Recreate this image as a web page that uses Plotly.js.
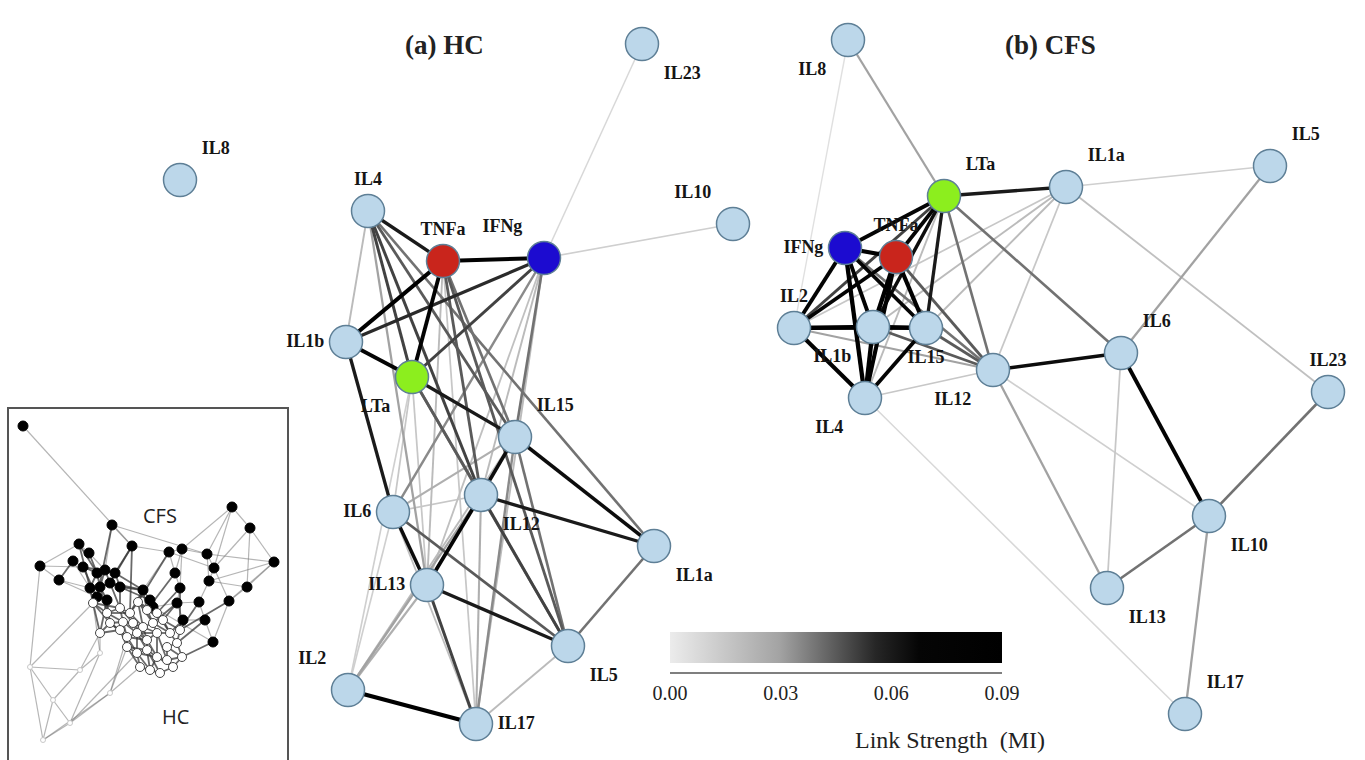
<!DOCTYPE html>
<html><head><meta charset="utf-8">
<script src="https://cdn.plot.ly/plotly-3.0.1.min.js"></script>
<style>html,body{margin:0;padding:0;background:#fff}#chart{width:1365px;height:760px}</style>
</head><body><div id="chart"></div>
<script>
// ---------- DATA ----------
// (a) HC network: node layout coordinates
const hcNames = ['IL23','IL8','IL4','TNFa','IFNg','IL10','IL1b','LTa','IL15','IL6','IL12','IL1a','IL13','IL5','IL2','IL17'];
const hcX = [642,180,368,443,544,733,346,412,515,393,481,654,427,568,348,476];
const hcY = [44,180,211,261,258,224,342,377,437,512,495,546,585,646,690,724];
// HC links: from, to, mutual information
const hcFrom = ['IFNg','IFNg','TNFa','IL4','IL4','IL4','IL4','IL4','IL4','IL4','IL1b','IL1b','IL1b','IL1b','IL6','TNFa','TNFa','TNFa','TNFa','TNFa','TNFa','IFNg','IFNg','IFNg','IFNg','IFNg','IFNg','LTa','LTa','LTa','LTa','LTa','LTa','IL15','IL15','IL15','IL15','IL15','IL15','IL12','IL12','IL12','IL12','IL12','IL12','IL6','IL6','IL6','IL13','IL13','IL13','IL2','IL1a','IL5','IL15'];
const hcTo   = ['IL23','IL10','IFNg','TNFa','IL1b','LTa','IL15','IL12','IL1a','IL13','TNFa','IFNg','LTa','IL6','IL13','LTa','IL12','IL15','IL5','IL13','IL17','LTa','IL6','IL12','IL15','IL13','IL17','IL15','IL12','IL13','IL2','IL5','IL6','IL1a','IL12','IL6','IL13','IL5','IL17','IL1a','IL6','IL13','IL5','IL2','IL17','IL5','IL2','IL17','IL5','IL17','IL2','IL17','IL5','IL17','IL2'];
const hcMI   = [0.008,0.012,0.080,0.060,0.020,0.050,0.045,0.050,0.040,0.030,0.085,0.055,0.070,0.060,0.065,0.075,0.045,0.040,0.045,0.020,0.015,0.050,0.035,0.020,0.040,0.018,0.020,0.060,0.045,0.015,0.012,0.040,0.015,0.065,0.065,0.025,0.040,0.040,0.035,0.060,0.015,0.070,0.050,0.030,0.025,0.045,0.012,0.018,0.060,0.050,0.025,0.088,0.040,0.020,0.020];

// (b) CFS network
const cfsNames = ['IL8','LTa','IL1a','IL5','IFNg','TNFa','IL2','IL1b','IL15','IL12','IL6','IL23','IL4','IL10','IL13','IL17'];
const cfsX = [848,944,1066,1270,845,896,794,873,926,993,1121,1328,865,1209,1107,1185];
const cfsY = [40,196,187,166,248,257,328,327,328,370,353,392,398,516,588,714];
const cfsFrom = ['IL8','IL8','LTa','LTa','LTa','LTa','LTa','LTa','LTa','LTa','LTa','IL1a','IL1a','IL1a','IL1a','IL1a','IL1a','IL5','IL6','IL6','IL10','IL10','IL10','IL12','IL12','IL12','IL4','IFNg','IFNg','IFNg','IFNg','IFNg','IFNg','TNFa','TNFa','TNFa','TNFa','TNFa','IL2','IL2','IL2','IL1b','IL1b','IL15','IL15','IL1b','IL2','IL6'];
const cfsTo   = ['LTa','IL2','IL1a','IFNg','TNFa','IL2','IL1b','IL15','IL4','IL12','IL6','IL5','IL23','IL15','IL12','IL2','IL1b','IL6','IL12','IL10','IL23','IL13','IL17','IL13','IL10','IL4','IL17','TNFa','IL2','IL1b','IL15','IL4','IL12','IL2','IL1b','IL15','IL4','IL12','IL1b','IL15','IL4','IL15','IL4','IL4','IL12','IL12','IL12','IL13'];
const cfsMI   = [0.030,0.005,0.060,0.070,0.070,0.050,0.065,0.060,0.020,0.040,0.040,0.012,0.018,0.020,0.015,0.015,0.020,0.030,0.065,0.075,0.040,0.040,0.030,0.030,0.012,0.015,0.008,0.085,0.075,0.075,0.070,0.088,0.040,0.070,0.088,0.085,0.080,0.045,0.088,0.070,0.080,0.088,0.088,0.070,0.045,0.045,0.030,0.015];

// Colour bar ticks
const linkTickVals = [0, 0.03, 0.06, 0.09];
const linkTickText = ['0.00','0.03','0.06','0.09'];

// Inset (merged network): node coordinates and kind (b = CFS, w = HC, o = HC outlier)
const insetX = [23,232,250,112,79,89,132,169,182,207,40,73,214,274,59,175,209,247,229,199,180,205,213,183,177,83,97,105,115,90,100,110,120,97,107,143,150,153,
  93,107,120,130,138,147,157,110,123,133,143,153,163,170,127,137,147,157,167,177,182,127,137,147,157,167,173,140,150,160,120,100,180,
  30,43,70,80,100,110,53];
const insetY = [426,507,528,525,544,553,546,552,549,554,566,561,568,562,580,573,581,587,601,602,588,620,642,620,603,567,573,570,573,588,587,583,587,597,600,590,600,607,
  603,613,608,613,602,610,613,623,622,623,627,623,620,633,637,633,640,633,647,643,657,647,653,650,657,660,667,667,670,673,630,633,630,
  667,740,723,670,653,693,700];
const insetKind = ['b','b','b','b','b','b','b','b','b','b','b','b','b','b','b','b','b','b','b','b','b','b','b','b','b','b','b','b','b','b','b','b','b','b','b','b','b','b',
  'w','w','w','w','w','w','w','w','w','w','w','w','w','w','w','w','w','w','w','w','w','w','w','w','w','w','w','w','w','w','w','w','w',
  'o','o','o','o','o','o','o'];
// outer (lighter) links
const insetEdgeA = [0,1,1,1,2,13,17,3,6,7,8,4,4,10,12,9,16,18,21,19,20,15,24,7,8,10,11,14,3,7,8,12,19,23,21,16,14,11,5,1,2,13,3,9,7,2,9,13,22,
  71,71,72,73,74,75,76,77,77,71,72,73,76,74,71,75,76,73,77,72];
const insetEdgeB = [6,2,9,12,13,17,18,6,7,8,9,5,10,14,16,12,17,22,22,21,24,20,37,15,15,25,25,29,27,35,20,18,24,24,23,19,33,29,27,8,17,18,9,13,12,12,16,16,37,
  72,74,73,76,75,38,52,74,73,38,76,75,59,69,10,69,65,60,71,77];
// dense core links (darker)
const insetCoreA = [25,26,27,28,29,30,31,33,32,35,36,4,6,6,25,26,27,28,29,30,31,32,25,26,27,28,33,34,35,36,37,24,20,15,7,6,3,4,5,11,34,
  33,34,32,35,36,37,24,23,21,22,19,29,30,31,35,20,18,
  38,39,40,41,42,43,39,45,46,47,48,49,50,45,68,52,53,54,55,51,56,52,59,60,61,62,63,56,57,58,65,66,67,60,62,69,69,41,43,44,46,48,49,53,55,54,57,50,58,40,42,47,61,
  38,39,40,41,42,43,44,45,46,47,48,49,52,53,54,55,59,60,61,62,63,68,69,38,39,42,46,52,53,59,60,65];
const insetCoreB = [26,27,28,32,30,31,32,34,35,36,37,26,28,31,28,29,30,31,33,34,35,36,33,30,31,35,38,45,43,44,50,49,44,43,42,41,33,29,26,14,69,
  38,39,40,42,43,44,50,51,57,58,70,38,39,40,41,70,70,
  39,40,41,42,43,44,45,46,47,48,49,50,51,68,52,53,54,55,51,57,57,59,60,61,62,63,64,63,58,64,66,67,64,65,66,45,38,47,49,50,52,54,55,60,62,61,70,70,56,46,48,53,66,
  45,46,47,48,49,50,51,52,53,54,55,51,60,61,62,63,65,66,67,64,58,59,68,40,41,44,48,54,55,61,62,67];

// ---------- STYLE ----------
const linkScale = [[0,'#ececec'],[0.33,'#a3a3a3'],[0.62,'#262626'],[0.75,'#050505'],[1,'#000000']];
const serif = 'Liberation Serif, Times New Roman, serif';
const specialColor = {TNFa:'#c9251c', IFNg:'#1c0bd0', LTa:'#8cee1e'};
const baseFill = '#bcd7ea', nodeLine = '#5e7f96';
const hcPos = {IL23:'bottom right',IL8:'top right',IL4:'top center',TNFa:'top center',IFNg:'top left',IL10:'top left',IL1b:'middle left',LTa:'bottom left',IL15:'top right',IL6:'middle left',IL12:'bottom right',IL1a:'bottom right',IL13:'middle left',IL5:'bottom right',IL2:'top left',IL17:'middle right'};
const cfsPos = {IL8:'bottom left',LTa:'top right',IL1a:'top right',IL5:'top right',IFNg:'middle left',TNFa:'top center',IL2:'top center',IL1b:'bottom left',IL15:'bottom center',IL12:'bottom left',IL6:'top right',IL23:'top center',IL4:'bottom left',IL10:'bottom right',IL13:'bottom right',IL17:'top right'};

function hex2rgb(h){return [parseInt(h.slice(1,3),16),parseInt(h.slice(3,5),16),parseInt(h.slice(5,7),16)];}
function colorFor(v){
  const t=Math.max(0,Math.min(1,v/0.09));
  for(let i=1;i<linkScale.length;i++){
    if(t<=linkScale[i][0]){
      const a=linkScale[i-1],b=linkScale[i];const f=(t-a[0])/(b[0]-a[0]);
      const ca=hex2rgb(a[1]),cb=hex2rgb(b[1]);
      return 'rgb('+ca.map((c,k)=>Math.round(c+(cb[k]-c)*f)).join(',')+')';
    }
  }
  return '#000';
}

const traces=[];
function insetLinks(A,B,color,width){
  const ix=[],iy=[];
  for(let i=0;i<A.length;i++){ix.push(insetX[A[i]],insetX[B[i]],null);iy.push(insetY[A[i]],insetY[B[i]],null);}
  traces.push({type:'scatter',mode:'lines',x:ix,y:iy,line:{color:color,width:width},hoverinfo:'skip',showlegend:false});
}
insetLinks(insetEdgeA,insetEdgeB,'rgba(120,120,120,0.55)',1.2);
insetLinks(insetCoreA,insetCoreB,'rgba(55,55,55,0.75)',1.8);
function insetNodes(kind,color,size,lcol){
  const xs=[],ys=[];
  insetKind.forEach((k,i)=>{if(k===kind){xs.push(insetX[i]);ys.push(insetY[i]);}});
  traces.push({type:'scatter',mode:'markers',x:xs,y:ys,marker:{color:color,size:size,line:{color:lcol,width:1}},hoverinfo:'skip',showlegend:false});
}
insetNodes('o','#ffffff',5,'#c8c8c8');
insetNodes('b','#000000',10,'#000000');
insetNodes('w','#ffffff',9,'#444444');

function addNetwork(names,X,Y,from,to,mi,pos){
  const idx={};names.forEach((n,i)=>idx[n]=i);
  const order=mi.map((v,i)=>i).sort((a,b)=>mi[a]-mi[b]);
  order.forEach(i=>{
    const a=idx[from[i]],b=idx[to[i]];
    traces.push({type:'scatter',mode:'lines',x:[X[a],X[b]],y:[Y[a],Y[b]],
      line:{color:colorFor(mi[i]),width:1.2+mi[i]/0.09*3.2},hoverinfo:'skip',showlegend:false});
  });
  traces.push({type:'scatter',mode:'markers+text',x:X,y:Y,text:names,
    textposition:names.map(n=>pos[n]),
    textfont:{family:serif,size:18,color:'#151515',weight:'bold'},
    marker:{size:33,color:names.map(n=>specialColor[n]||baseFill),line:{color:nodeLine,width:1.5}},
    hoverinfo:'text',showlegend:false,cliponaxis:false});
}
addNetwork(hcNames,hcX,hcY,hcFrom,hcTo,hcMI,hcPos);
addNetwork(cfsNames,cfsX,cfsY,cfsFrom,cfsTo,cfsMI,cfsPos);

// colour bar carrier
traces.push({type:'scatter',mode:'markers',x:[-100,-100],y:[-100,-100],hoverinfo:'skip',showlegend:false,
  marker:{color:[0,0.09],cmin:0,cmax:0.09,colorscale:linkScale,showscale:true,opacity:0,
    colorbar:{orientation:'h',x:836/1365,xanchor:'center',y:1-632/760,yanchor:'top',len:332/1365,lenmode:'fraction',
      thickness:31,thicknessmode:'pixels',outlinewidth:0,xpad:0,ypad:0,
      tickvals:linkTickVals,ticktext:linkTickText,ticks:'outside',ticklen:13,tickcolor:'rgba(0,0,0,0)',
      tickfont:{family:serif,size:20,color:'#222'}}}});

const layout={
  width:1365,height:760,margin:{l:0,r:0,t:0,b:0},paper_bgcolor:'#fff',plot_bgcolor:'#fff',
  xaxis:{range:[0,1365],visible:false,fixedrange:true},
  yaxis:{range:[760,0],visible:false,fixedrange:true},
  showlegend:false,
  shapes:[
    {type:'rect',xref:'x',yref:'y',x0:8,x1:288,y0:408,y1:762,line:{color:'#555',width:2},fillcolor:'rgba(0,0,0,0)',layer:'below'},
    {type:'line',xref:'x',yref:'y',x0:670,x1:1002,y0:673,y1:673,line:{color:'#555',width:1.5}}
  ],
  annotations:[
    {x:444,y:45,xref:'x',yref:'y',text:'<b>(a) HC</b>',showarrow:false,font:{family:serif,size:27,color:'#222'}},
    {x:1050,y:45,xref:'x',yref:'y',text:'<b>(b) CFS</b>',showarrow:false,font:{family:serif,size:27,color:'#222'}},
    {x:950,y:740,xref:'x',yref:'y',text:'Link Strength  (MI)',showarrow:false,font:{family:serif,size:24,color:'#222'}},
    {x:160,y:515,xref:'x',yref:'y',text:'CFS',showarrow:false,font:{family:'Open Sans, sans-serif',size:20,color:'#222'}},
    {x:175,y:716,xref:'x',yref:'y',text:'HC',showarrow:false,font:{family:'Open Sans, sans-serif',size:20,color:'#222'}}
  ]
};
Plotly.newPlot('chart',traces,layout,{displayModeBar:false,staticPlot:true});
</script>
</body></html>
